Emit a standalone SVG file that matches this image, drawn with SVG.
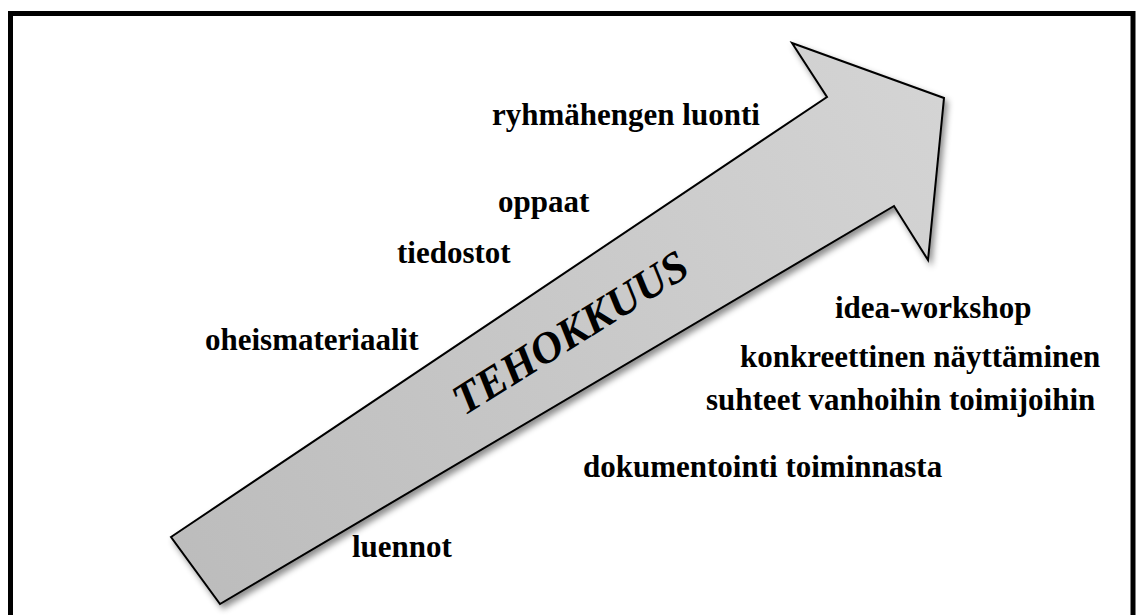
<svg xmlns="http://www.w3.org/2000/svg" width="1136" height="615" viewBox="0 0 1136 615">
  <style>
    .lbl { font-family: "Liberation Serif", "Times New Roman", serif; font-weight: bold; font-size: 31px; fill: #000; }
    .big { font-family: "Liberation Serif", "Times New Roman", serif; font-weight: bold; font-style: italic; font-size: 44px; fill: #000; }
  </style>
  <defs>
    <linearGradient id="arrowFill" x1="171" y1="570" x2="944" y2="98" gradientUnits="userSpaceOnUse">
      <stop offset="0" stop-color="#bcbcbc"/>
      <stop offset="1" stop-color="#d4d4d4"/>
    </linearGradient>
    <filter id="shadow" x="-10%" y="-10%" width="130%" height="130%">
      <feDropShadow dx="3" dy="4" stdDeviation="3" flood-color="#000" flood-opacity="0.45"/>
    </filter>
  </defs>
  <rect x="0" y="0" width="1136" height="615" fill="#fff"/>
  <rect id="frame" x="10.5" y="13.5" width="1122.5" height="630" fill="none" stroke="#000" stroke-width="5"/>
  <g id="arrow">
    <polygon points="171,537 827,97 792,43 944,98 928,260 894,206 220,604" fill="url(#arrowFill)" stroke="#000" stroke-width="2" stroke-linejoin="miter" filter="url(#shadow)"/>
    <text class="big" text-anchor="middle" transform="translate(578,345) rotate(-32)">TEHOKKUUS</text>
  </g>
  <g id="labels">
    <g id="n-ryhmahenki"><text class="lbl" x="492" y="125">ryhmähengen luonti</text></g>
    <g id="n-oppaat"><text class="lbl" x="498" y="212">oppaat</text></g>
    <g id="n-tiedostot"><text class="lbl" x="397" y="263">tiedostot</text></g>
    <g id="n-oheismateriaalit"><text class="lbl" x="205" y="350">oheismateriaalit</text></g>
    <g id="n-idea"><text class="lbl" x="835" y="318">idea-workshop</text></g>
    <g id="n-konkreettinen"><text class="lbl" x="740" y="367">konkreettinen näyttäminen</text></g>
    <g id="n-suhteet"><text class="lbl" x="706" y="410">suhteet vanhoihin toimijoihin</text></g>
    <g id="n-dokumentointi"><text class="lbl" x="583" y="477">dokumentointi toiminnasta</text></g>
    <g id="n-luennot"><text class="lbl" x="352" y="557">luennot</text></g>
  </g>
  <g id="connectors"></g>
</svg>
